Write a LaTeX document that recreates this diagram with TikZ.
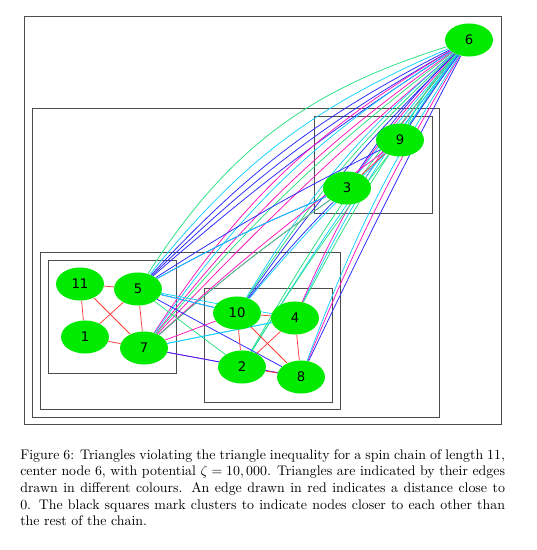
\documentclass[tikz,border=0pt]{standalone}
\usepackage{fontspec}
\newfontfamily\spinfont{DejaVu Sans}
\usepackage{xcolor}
\usepackage{tikz}
\usetikzlibrary{shapes.geometric, backgrounds}
\definecolor{spingreen}{RGB}{0,235,0}
\definecolor{ered}{RGB}{255,60,60}
\definecolor{egreen}{RGB}{40,225,130}
\definecolor{ecyan}{RGB}{20,210,255}
\definecolor{emag}{RGB}{255,20,190}
\definecolor{eblue}{RGB}{40,40,255}

\begin{document}
\begin{tikzpicture}[x=0.72pt, y=-0.72pt,
  spin/.style={ellipse, fill=spingreen, minimum width=34.5pt, minimum height=23.8pt,
    inner sep=0pt, font=\spinfont\fontsize{9.5}{10}\selectfont},
  cluster/.style={draw=black!70, line width=0.6pt},
  link/.style={line width=0.55pt}]
  \useasboundingbox (0,0) rectangle (536,550);
  % Spins of the chain
  \node[spin] (s6) at (469,40) {6};
  \node[spin] (s9) at (400,140) {9};
  \node[spin] (s3) at (347,188) {3};
  \node[spin] (s11) at (80,284) {11};
  \node[spin] (s5) at (138,289) {5};
  \node[spin] (s1) at (85,337) {1};
  \node[spin] (s7) at (144,348) {7};
  \node[spin] (s10) at (237,313) {10};
  \node[spin] (s4) at (295,318) {4};
  \node[spin] (s2) at (242,367) {2};
  \node[spin] (s8) at (301,377) {8};
  \begin{scope}[on background layer]
    % Cluster boxes
    \draw[cluster] (24,16.5) rectangle (501,424);
    \draw[cluster] (32,108) rectangle (439,417);
    \draw[cluster] (40,252) rectangle (340,409);
    \draw[cluster] (48,260) rectangle (176,373);
    \draw[cluster] (204,288) rectangle (332,402);
    \draw[cluster] (314,116) rectangle (432,213);
    % Edges out of the center node
    \foreach \dst/\col/\bend in {5/egreen/20, 5/ecyan/14, 5/eblue/10, 5/eblue/7, 5/eblue/4,
        7/emag/13, 7/emag/8, 7/ecyan/11, 7/egreen/6, 7/emag/3,
        10/ecyan/9, 10/eblue/5, 10/egreen/7, 4/ecyan/6, 4/egreen/4, 4/emag/8,
        2/egreen/5, 2/ecyan/3, 8/emag/4, 8/eblue/1, 8/ecyan/6,
        3/eblue/6, 3/emag/4, 3/ecyan/2, 9/ecyan/3, 9/egreen/8, 9/eblue/1} {
      \draw[link, \col] (s6) to[bend right=\bend] (s\dst);
    }
    % Edges out of the upper cluster
    \foreach \src/\dst/\col in {9/5/eblue, 9/7/emag, 9/10/ecyan, 3/5/eblue, 3/5/ecyan,
        3/7/emag, 3/7/egreen, 3/10/eblue, 9/2/egreen} {
      \draw[link, \col] (s\src) to[bend right=3] (s\dst);
    }
    % Edges between the lower clusters
    \foreach \src/\dst/\col in {5/10/eblue, 5/10/ecyan, 5/4/ecyan, 5/8/eblue, 5/2/egreen,
        7/10/emag, 7/4/ecyan, 7/4/ecyan, 7/8/emag, 7/8/eblue} {
      \draw[link, \col] (s\src) -- (s\dst);
    }
    % Close spins (red)
    \foreach \src/\dst in {11/5, 11/1, 11/7, 1/5, 1/7, 5/7,
        10/4, 10/2, 10/8, 4/2, 4/8, 2/8, 9/3} {
      \draw[link, ered] (s\src) -- (s\dst);
    }
  \end{scope}
  % Caption
  \node[anchor=north west, inner sep=0pt, text width=349pt, align=justify] (caption) at (20,449)
    {Figure 6: Triangles violating the triangle inequality for a spin chain of length 11,\linebreak
     center node 6, with potential $\zeta = 10,000$. Triangles are indicated by their edges\linebreak
     drawn in different colours. An edge drawn in red indicates a distance close to\linebreak
     0. The black squares mark clusters to indicate nodes closer to each other than\linebreak
     the rest of the chain.};
\end{tikzpicture}
\end{document}
